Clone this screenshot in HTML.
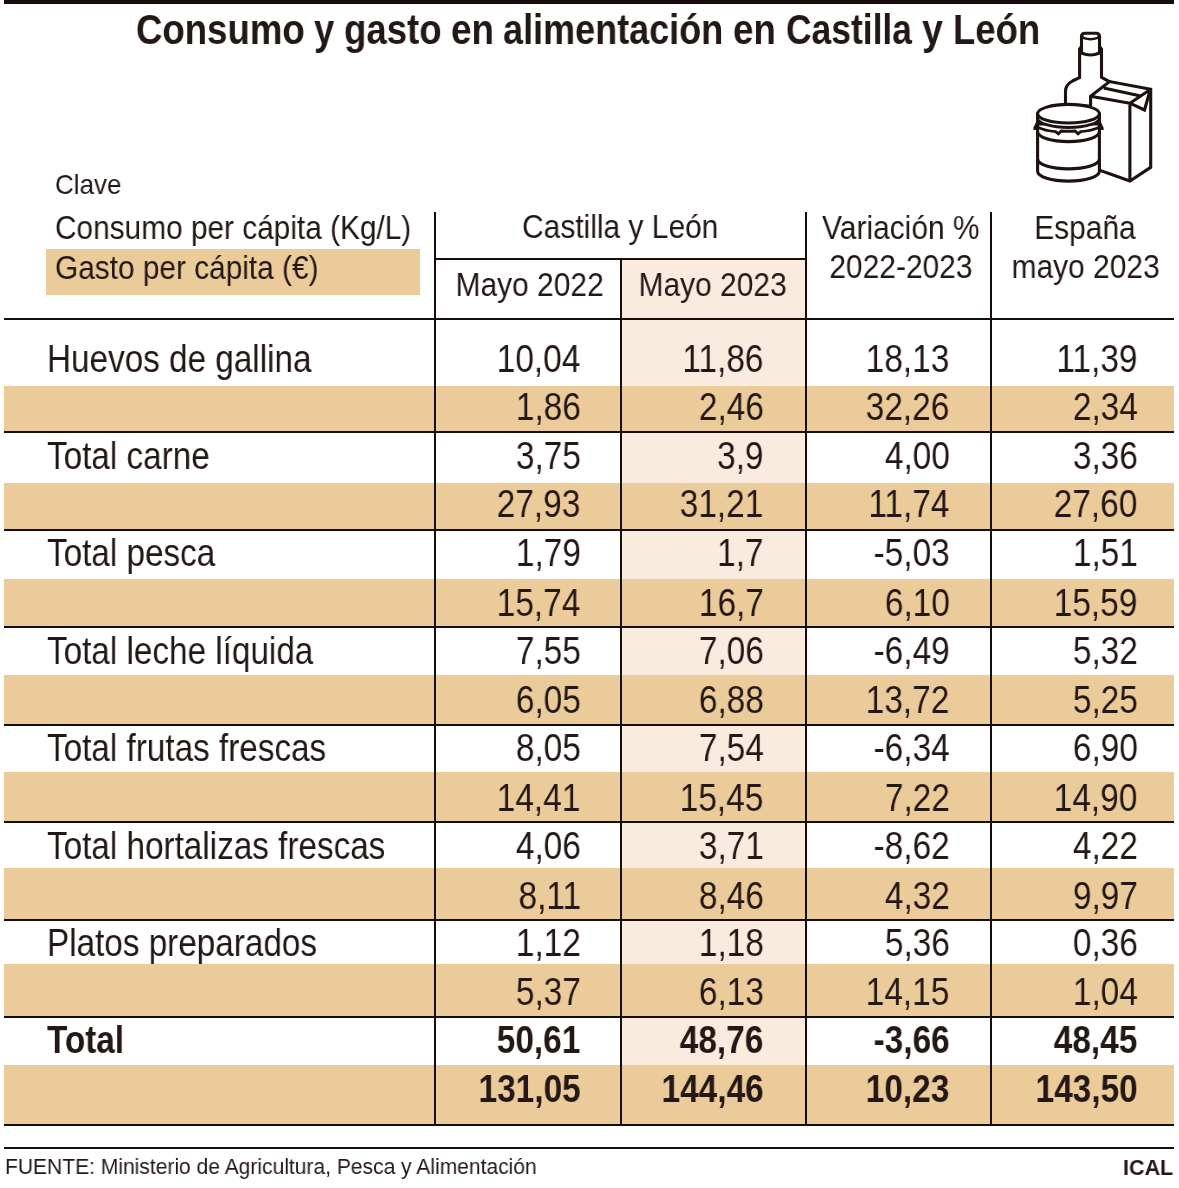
<!DOCTYPE html>
<html lang="es">
<head>
<meta charset="utf-8">
<title>Consumo y gasto en alimentación en Castilla y León</title>
<style>
html,body{margin:0;padding:0;background:#fff;}
body{width:1179px;height:1188px;position:relative;overflow:hidden;font-family:"Liberation Sans",sans-serif;color:#231815;}
.t{will-change:transform;position:absolute;white-space:nowrap;font-family:"Liberation Sans",sans-serif;color:#231815;margin:0;padding:0;}
.r{position:absolute;}
h1.title{margin:0;padding:0;position:absolute;left:0;top:0;width:1179px;height:60px;font-size:43px;font-weight:bold;}
h1.title span{display:block;}
svg.icon{position:absolute;left:0;top:0;width:1179px;height:200px;overflow:visible;}
</style>
</head>
<body>
<div class="r bar" style="left:4.00px;top:0.00px;width:1169.70px;height:3.70px;background:#170d0b"></div>
<h1 class="title"><span class="t tw" style="left:136.24px;top:4.90px;font-size:43px;line-height:48px;font-weight:bold;transform-origin:0 0;transform:scaleX(0.851);">Consumo</span> <span class="t tw" style="left:314.03px;top:4.90px;font-size:43px;line-height:48px;font-weight:bold;transform-origin:0 0;transform:scaleX(0.849);">y</span> <span class="t tw" style="left:344.44px;top:4.90px;font-size:43px;line-height:48px;font-weight:bold;transform-origin:0 0;transform:scaleX(0.851);">gasto</span> <span class="t tw" style="left:450.73px;top:4.90px;font-size:43px;line-height:48px;font-weight:bold;transform-origin:0 0;transform:scaleX(0.856);">en</span> <span class="t tw" style="left:503.12px;top:4.90px;font-size:43px;line-height:48px;font-weight:bold;transform-origin:0 0;transform:scaleX(0.838);">alimentación</span> <span class="t tw" style="left:732.73px;top:4.90px;font-size:43px;line-height:48px;font-weight:bold;transform-origin:0 0;transform:scaleX(0.852);">en</span> <span class="t tw" style="left:786.38px;top:4.90px;font-size:43px;line-height:48px;font-weight:bold;transform-origin:0 0;transform:scaleX(0.823);">Castilla</span> <span class="t tw" style="left:921.62px;top:4.90px;font-size:43px;line-height:48px;font-weight:bold;transform-origin:0 0;transform:scaleX(0.875);">y</span> <span class="t tw" style="left:953.24px;top:4.90px;font-size:43px;line-height:48px;font-weight:bold;transform-origin:0 0;transform:scaleX(0.848);">León</span></h1>
<div class="r lightcol" style="left:621.00px;top:259.00px;width:185.20px;height:866.30px;background:#F9ECDF"></div>
<div class="r legendbox" style="left:46.20px;top:249.20px;width:373.50px;height:45.50px;background:#ECCB9A"></div>
<div class="t legend" style="left:54.80px;top:168.60px;font-size:27.5px;line-height:31px;transform-origin:0 0;transform:scaleX(0.945);">Clave</div>
<div class="t legend" style="left:55.21px;top:208.60px;font-size:33px;line-height:37px;transform-origin:0 0;transform:scaleX(0.9035);">Consumo per cápita (Kg/L)</div>
<div class="t legend" style="left:55.21px;top:248.70px;font-size:33px;line-height:37px;transform-origin:0 0;transform:scaleX(0.9035);">Gasto per cápita (€)</div>
<div class="t hd" style="left:510.32px;top:208.40px;width:220.46px;font-size:33px;line-height:37px;transform-origin:50% 0;transform:scaleX(0.907);text-align:center;">Castilla y León</div>
<div class="t hd" style="left:446.38px;top:265.70px;width:167.28px;font-size:33px;line-height:37px;transform-origin:50% 0;transform:scaleX(0.907);text-align:center;">Mayo 2022</div>
<div class="t hd" style="left:628.77px;top:265.70px;width:167.28px;font-size:33px;line-height:37px;transform-origin:50% 0;transform:scaleX(0.907);text-align:center;">Mayo 2023</div>
<div class="t hd" style="left:812.36px;top:209.00px;width:177.64px;font-size:33px;line-height:37px;transform-origin:50% 0;transform:scaleX(0.907);text-align:center;">Variación %</div>
<div class="t hd" style="left:819.81px;top:248.30px;width:161.82px;font-size:33px;line-height:37px;transform-origin:50% 0;transform:scaleX(0.907);text-align:center;">2022-2023</div>
<div class="t hd" style="left:1027.03px;top:208.50px;width:115.93px;font-size:33px;line-height:37px;transform-origin:50% 0;transform:scaleX(0.907);text-align:center;">España</div>
<div class="t hd" style="left:1002.09px;top:248.40px;width:167.28px;font-size:33px;line-height:37px;transform-origin:50% 0;transform:scaleX(0.907);text-align:center;">mayo 2023</div>
<div class="r tan" style="left:4.00px;top:385.90px;width:1169.70px;height:46.00px;background:#ECCB9A"></div>
<div class="r tan" style="left:4.00px;top:483.00px;width:1169.70px;height:46.90px;background:#ECCB9A"></div>
<div class="r tan" style="left:4.00px;top:579.00px;width:1169.70px;height:47.90px;background:#ECCB9A"></div>
<div class="r tan" style="left:4.00px;top:674.90px;width:1169.70px;height:49.90px;background:#ECCB9A"></div>
<div class="r tan" style="left:4.00px;top:772.00px;width:1169.70px;height:50.00px;background:#ECCB9A"></div>
<div class="r tan" style="left:4.00px;top:868.00px;width:1169.70px;height:52.00px;background:#ECCB9A"></div>
<div class="r tan" style="left:4.00px;top:963.90px;width:1169.70px;height:53.10px;background:#ECCB9A"></div>
<div class="r tan" style="left:4.00px;top:1064.90px;width:1169.70px;height:60.50px;background:#ECCB9A"></div>
<div class="t lbl" style="left:47.40px;top:336.60px;font-size:38.5px;line-height:43px;transform-origin:0 0;transform:scaleX(0.864);">Huevos de gallina</div>
<div class="t num" style="left:482.31px;top:336.60px;width:98.35px;font-size:38.5px;line-height:43px;transform-origin:100% 0;transform:scaleX(0.868);text-align:right;">10,04</div>
<div class="t num" style="left:668.12px;top:336.60px;width:95.49px;font-size:38.5px;line-height:43px;transform-origin:100% 0;transform:scaleX(0.868);text-align:right;">11,86</div>
<div class="t num" style="left:851.18px;top:336.60px;width:98.35px;font-size:38.5px;line-height:43px;transform-origin:100% 0;transform:scaleX(0.868);text-align:right;">18,13</div>
<div class="t num" style="left:1042.07px;top:336.60px;width:95.49px;font-size:38.5px;line-height:43px;transform-origin:100% 0;transform:scaleX(0.868);text-align:right;">11,39</div>
<div class="t num" style="left:503.72px;top:384.55px;width:76.94px;font-size:38.5px;line-height:43px;transform-origin:100% 0;transform:scaleX(0.868);text-align:right;">1,86</div>
<div class="t num" style="left:686.67px;top:384.55px;width:76.94px;font-size:38.5px;line-height:43px;transform-origin:100% 0;transform:scaleX(0.868);text-align:right;">2,46</div>
<div class="t num" style="left:851.18px;top:384.55px;width:98.35px;font-size:38.5px;line-height:43px;transform-origin:100% 0;transform:scaleX(0.868);text-align:right;">32,26</div>
<div class="t num" style="left:1060.62px;top:384.55px;width:76.94px;font-size:38.5px;line-height:43px;transform-origin:100% 0;transform:scaleX(0.868);text-align:right;">2,34</div>
<div class="t lbl" style="left:47.40px;top:433.60px;font-size:38.5px;line-height:43px;transform-origin:0 0;transform:scaleX(0.864);">Total carne</div>
<div class="t num" style="left:503.72px;top:433.60px;width:76.94px;font-size:38.5px;line-height:43px;transform-origin:100% 0;transform:scaleX(0.868);text-align:right;">3,75</div>
<div class="t num" style="left:708.09px;top:433.60px;width:55.52px;font-size:38.5px;line-height:43px;transform-origin:100% 0;transform:scaleX(0.868);text-align:right;">3,9</div>
<div class="t num" style="left:872.59px;top:433.60px;width:76.94px;font-size:38.5px;line-height:43px;transform-origin:100% 0;transform:scaleX(0.868);text-align:right;">4,00</div>
<div class="t num" style="left:1060.62px;top:433.60px;width:76.94px;font-size:38.5px;line-height:43px;transform-origin:100% 0;transform:scaleX(0.868);text-align:right;">3,36</div>
<div class="t num" style="left:482.31px;top:482.30px;width:98.35px;font-size:38.5px;line-height:43px;transform-origin:100% 0;transform:scaleX(0.868);text-align:right;">27,93</div>
<div class="t num" style="left:665.26px;top:482.30px;width:98.35px;font-size:38.5px;line-height:43px;transform-origin:100% 0;transform:scaleX(0.868);text-align:right;">31,21</div>
<div class="t num" style="left:854.04px;top:482.30px;width:95.49px;font-size:38.5px;line-height:43px;transform-origin:100% 0;transform:scaleX(0.868);text-align:right;">11,74</div>
<div class="t num" style="left:1039.21px;top:482.30px;width:98.35px;font-size:38.5px;line-height:43px;transform-origin:100% 0;transform:scaleX(0.868);text-align:right;">27,60</div>
<div class="t lbl" style="left:47.40px;top:531.30px;font-size:38.5px;line-height:43px;transform-origin:0 0;transform:scaleX(0.864);">Total pesca</div>
<div class="t num" style="left:503.72px;top:531.30px;width:76.94px;font-size:38.5px;line-height:43px;transform-origin:100% 0;transform:scaleX(0.868);text-align:right;">1,79</div>
<div class="t num" style="left:708.09px;top:531.30px;width:55.52px;font-size:38.5px;line-height:43px;transform-origin:100% 0;transform:scaleX(0.868);text-align:right;">1,7</div>
<div class="t num" style="left:859.77px;top:531.30px;width:89.76px;font-size:38.5px;line-height:43px;transform-origin:100% 0;transform:scaleX(0.868);text-align:right;">-5,03</div>
<div class="t num" style="left:1060.62px;top:531.30px;width:76.94px;font-size:38.5px;line-height:43px;transform-origin:100% 0;transform:scaleX(0.868);text-align:right;">1,51</div>
<div class="t num" style="left:482.31px;top:580.50px;width:98.35px;font-size:38.5px;line-height:43px;transform-origin:100% 0;transform:scaleX(0.868);text-align:right;">15,74</div>
<div class="t num" style="left:686.67px;top:580.50px;width:76.94px;font-size:38.5px;line-height:43px;transform-origin:100% 0;transform:scaleX(0.868);text-align:right;">16,7</div>
<div class="t num" style="left:872.59px;top:580.50px;width:76.94px;font-size:38.5px;line-height:43px;transform-origin:100% 0;transform:scaleX(0.868);text-align:right;">6,10</div>
<div class="t num" style="left:1039.21px;top:580.50px;width:98.35px;font-size:38.5px;line-height:43px;transform-origin:100% 0;transform:scaleX(0.868);text-align:right;">15,59</div>
<div class="t lbl" style="left:47.40px;top:628.60px;font-size:38.5px;line-height:43px;transform-origin:0 0;transform:scaleX(0.864);">Total leche líquida</div>
<div class="t num" style="left:503.72px;top:628.60px;width:76.94px;font-size:38.5px;line-height:43px;transform-origin:100% 0;transform:scaleX(0.868);text-align:right;">7,55</div>
<div class="t num" style="left:686.67px;top:628.60px;width:76.94px;font-size:38.5px;line-height:43px;transform-origin:100% 0;transform:scaleX(0.868);text-align:right;">7,06</div>
<div class="t num" style="left:859.77px;top:628.60px;width:89.76px;font-size:38.5px;line-height:43px;transform-origin:100% 0;transform:scaleX(0.868);text-align:right;">-6,49</div>
<div class="t num" style="left:1060.62px;top:628.60px;width:76.94px;font-size:38.5px;line-height:43px;transform-origin:100% 0;transform:scaleX(0.868);text-align:right;">5,32</div>
<div class="t num" style="left:503.72px;top:677.70px;width:76.94px;font-size:38.5px;line-height:43px;transform-origin:100% 0;transform:scaleX(0.868);text-align:right;">6,05</div>
<div class="t num" style="left:686.67px;top:677.70px;width:76.94px;font-size:38.5px;line-height:43px;transform-origin:100% 0;transform:scaleX(0.868);text-align:right;">6,88</div>
<div class="t num" style="left:851.18px;top:677.70px;width:98.35px;font-size:38.5px;line-height:43px;transform-origin:100% 0;transform:scaleX(0.868);text-align:right;">13,72</div>
<div class="t num" style="left:1060.62px;top:677.70px;width:76.94px;font-size:38.5px;line-height:43px;transform-origin:100% 0;transform:scaleX(0.868);text-align:right;">5,25</div>
<div class="t lbl" style="left:47.40px;top:725.90px;font-size:38.5px;line-height:43px;transform-origin:0 0;transform:scaleX(0.864);">Total frutas frescas</div>
<div class="t num" style="left:503.72px;top:725.90px;width:76.94px;font-size:38.5px;line-height:43px;transform-origin:100% 0;transform:scaleX(0.868);text-align:right;">8,05</div>
<div class="t num" style="left:686.67px;top:725.90px;width:76.94px;font-size:38.5px;line-height:43px;transform-origin:100% 0;transform:scaleX(0.868);text-align:right;">7,54</div>
<div class="t num" style="left:859.77px;top:725.90px;width:89.76px;font-size:38.5px;line-height:43px;transform-origin:100% 0;transform:scaleX(0.868);text-align:right;">-6,34</div>
<div class="t num" style="left:1060.62px;top:725.90px;width:76.94px;font-size:38.5px;line-height:43px;transform-origin:100% 0;transform:scaleX(0.868);text-align:right;">6,90</div>
<div class="t num" style="left:482.31px;top:775.50px;width:98.35px;font-size:38.5px;line-height:43px;transform-origin:100% 0;transform:scaleX(0.868);text-align:right;">14,41</div>
<div class="t num" style="left:665.26px;top:775.50px;width:98.35px;font-size:38.5px;line-height:43px;transform-origin:100% 0;transform:scaleX(0.868);text-align:right;">15,45</div>
<div class="t num" style="left:872.59px;top:775.50px;width:76.94px;font-size:38.5px;line-height:43px;transform-origin:100% 0;transform:scaleX(0.868);text-align:right;">7,22</div>
<div class="t num" style="left:1039.21px;top:775.50px;width:98.35px;font-size:38.5px;line-height:43px;transform-origin:100% 0;transform:scaleX(0.868);text-align:right;">14,90</div>
<div class="t lbl" style="left:47.40px;top:823.80px;font-size:38.5px;line-height:43px;transform-origin:0 0;transform:scaleX(0.864);">Total hortalizas frescas</div>
<div class="t num" style="left:503.72px;top:823.80px;width:76.94px;font-size:38.5px;line-height:43px;transform-origin:100% 0;transform:scaleX(0.868);text-align:right;">4,06</div>
<div class="t num" style="left:686.67px;top:823.80px;width:76.94px;font-size:38.5px;line-height:43px;transform-origin:100% 0;transform:scaleX(0.868);text-align:right;">3,71</div>
<div class="t num" style="left:859.77px;top:823.80px;width:89.76px;font-size:38.5px;line-height:43px;transform-origin:100% 0;transform:scaleX(0.868);text-align:right;">-8,62</div>
<div class="t num" style="left:1060.62px;top:823.80px;width:76.94px;font-size:38.5px;line-height:43px;transform-origin:100% 0;transform:scaleX(0.868);text-align:right;">4,22</div>
<div class="t num" style="left:506.58px;top:873.50px;width:74.08px;font-size:38.5px;line-height:43px;transform-origin:100% 0;transform:scaleX(0.868);text-align:right;">8,11</div>
<div class="t num" style="left:686.67px;top:873.50px;width:76.94px;font-size:38.5px;line-height:43px;transform-origin:100% 0;transform:scaleX(0.868);text-align:right;">8,46</div>
<div class="t num" style="left:872.59px;top:873.50px;width:76.94px;font-size:38.5px;line-height:43px;transform-origin:100% 0;transform:scaleX(0.868);text-align:right;">4,32</div>
<div class="t num" style="left:1060.62px;top:873.50px;width:76.94px;font-size:38.5px;line-height:43px;transform-origin:100% 0;transform:scaleX(0.868);text-align:right;">9,97</div>
<div class="t lbl" style="left:47.40px;top:921.10px;font-size:38.5px;line-height:43px;transform-origin:0 0;transform:scaleX(0.864);">Platos preparados</div>
<div class="t num" style="left:503.72px;top:921.10px;width:76.94px;font-size:38.5px;line-height:43px;transform-origin:100% 0;transform:scaleX(0.868);text-align:right;">1,12</div>
<div class="t num" style="left:686.67px;top:921.10px;width:76.94px;font-size:38.5px;line-height:43px;transform-origin:100% 0;transform:scaleX(0.868);text-align:right;">1,18</div>
<div class="t num" style="left:872.59px;top:921.10px;width:76.94px;font-size:38.5px;line-height:43px;transform-origin:100% 0;transform:scaleX(0.868);text-align:right;">5,36</div>
<div class="t num" style="left:1060.62px;top:921.10px;width:76.94px;font-size:38.5px;line-height:43px;transform-origin:100% 0;transform:scaleX(0.868);text-align:right;">0,36</div>
<div class="t num" style="left:503.72px;top:970.00px;width:76.94px;font-size:38.5px;line-height:43px;transform-origin:100% 0;transform:scaleX(0.868);text-align:right;">5,37</div>
<div class="t num" style="left:686.67px;top:970.00px;width:76.94px;font-size:38.5px;line-height:43px;transform-origin:100% 0;transform:scaleX(0.868);text-align:right;">6,13</div>
<div class="t num" style="left:851.18px;top:970.00px;width:98.35px;font-size:38.5px;line-height:43px;transform-origin:100% 0;transform:scaleX(0.868);text-align:right;">14,15</div>
<div class="t num" style="left:1060.62px;top:970.00px;width:76.94px;font-size:38.5px;line-height:43px;transform-origin:100% 0;transform:scaleX(0.868);text-align:right;">1,04</div>
<div class="t lbl" style="left:47.40px;top:1018.40px;font-size:38.5px;line-height:43px;font-weight:bold;transform-origin:0 0;transform:scaleX(0.864);">Total</div>
<div class="t num" style="left:482.31px;top:1018.40px;width:98.35px;font-size:38.5px;line-height:43px;font-weight:bold;transform-origin:100% 0;transform:scaleX(0.868);text-align:right;">50,61</div>
<div class="t num" style="left:665.26px;top:1018.40px;width:98.35px;font-size:38.5px;line-height:43px;font-weight:bold;transform-origin:100% 0;transform:scaleX(0.868);text-align:right;">48,76</div>
<div class="t num" style="left:859.77px;top:1018.40px;width:89.76px;font-size:38.5px;line-height:43px;font-weight:bold;transform-origin:100% 0;transform:scaleX(0.868);text-align:right;">-3,66</div>
<div class="t num" style="left:1039.21px;top:1018.40px;width:98.35px;font-size:38.5px;line-height:43px;font-weight:bold;transform-origin:100% 0;transform:scaleX(0.868);text-align:right;">48,45</div>
<div class="t num" style="left:460.90px;top:1067.30px;width:119.76px;font-size:38.5px;line-height:43px;font-weight:bold;transform-origin:100% 0;transform:scaleX(0.868);text-align:right;">131,05</div>
<div class="t num" style="left:643.85px;top:1067.30px;width:119.76px;font-size:38.5px;line-height:43px;font-weight:bold;transform-origin:100% 0;transform:scaleX(0.868);text-align:right;">144,46</div>
<div class="t num" style="left:851.18px;top:1067.30px;width:98.35px;font-size:38.5px;line-height:43px;font-weight:bold;transform-origin:100% 0;transform:scaleX(0.868);text-align:right;">10,23</div>
<div class="t num" style="left:1017.80px;top:1067.30px;width:119.76px;font-size:38.5px;line-height:43px;font-weight:bold;transform-origin:100% 0;transform:scaleX(0.868);text-align:right;">143,50</div>
<div class="r hl" style="left:4.00px;top:317.90px;width:1169.70px;height:2.00px;background:#170d0b"></div>
<div class="r hl" style="left:434.00px;top:257.90px;width:373.00px;height:2.00px;background:#170d0b"></div>
<div class="r hl" style="left:4.00px;top:430.90px;width:1169.70px;height:2.00px;background:#170d0b"></div>
<div class="r hl" style="left:4.00px;top:528.90px;width:1169.70px;height:2.00px;background:#170d0b"></div>
<div class="r hl" style="left:4.00px;top:625.90px;width:1169.70px;height:2.00px;background:#170d0b"></div>
<div class="r hl" style="left:4.00px;top:723.80px;width:1169.70px;height:2.00px;background:#170d0b"></div>
<div class="r hl" style="left:4.00px;top:821.00px;width:1169.70px;height:2.00px;background:#170d0b"></div>
<div class="r hl" style="left:4.00px;top:919.00px;width:1169.70px;height:2.00px;background:#170d0b"></div>
<div class="r hl" style="left:4.00px;top:1016.00px;width:1169.70px;height:2.00px;background:#170d0b"></div>
<div class="r hl" style="left:4.00px;top:1124.40px;width:1169.70px;height:2.00px;background:#170d0b"></div>
<div class="r hl" style="left:4.00px;top:1146.70px;width:1169.70px;height:2.00px;background:#170d0b"></div>
<div class="r vl" style="left:434.00px;top:212.20px;width:2.00px;height:914.20px;background:#170d0b"></div>
<div class="r vl" style="left:620.00px;top:259.00px;width:2.00px;height:867.40px;background:#170d0b"></div>
<div class="r vl" style="left:805.00px;top:212.20px;width:2.00px;height:914.20px;background:#170d0b"></div>
<div class="r vl" style="left:990.00px;top:212.20px;width:2.00px;height:914.20px;background:#170d0b"></div>
<div class="t foot" style="left:5.16px;top:1154.40px;font-size:22.4px;line-height:25px;transform-origin:0 0;transform:scaleX(0.939);">FUENTE: Ministerio de Agricultura, Pesca y Alimentación</div>
<div class="t num" style="left:1119.40px;top:1154.90px;width:54.26px;font-size:22.4px;line-height:25px;font-weight:bold;transform-origin:100% 0;transform:scaleX(0.962);text-align:right;">ICAL</div>
<svg class="icon" viewBox="0 0 1179 200" fill="#fff" stroke="#1d1210" stroke-width="3.1" stroke-linejoin="miter" stroke-linecap="butt">
<!-- bottle -->
<path d="M1081.5,46.5 L1079.6,49 V77.6 L1072.5,81 C1068,83.5 1065.5,86 1065.5,91 V106 H1112 L1109.7,81.8 L1101.5,77.4 V49 L1099.5,46.5 Z"/>
<path d="M1081.5,53 V36.8 Q1081.5,33.3 1085,33.3 H1096 Q1099.5,33.3 1099.5,36.8 V53 Q1090.5,57 1081.5,53 Z"/>
<path d="M1081.6,35.6 A8.9,3.6 0 0 0 1099.4,35.6" fill="none" stroke-width="2.6"/>
<!-- carton -->
<path d="M1090.6,175 V96.2 L1109.6,81.6 L1150.7,89.2 V167.4 L1129.9,181 L1095,168.5 Z"/>
<path d="M1129.9,181 V103.2 L1090.6,96.2 M1129.9,103.2 L1150.7,89.2 M1103.7,88 L1140.7,95.9 M1129.9,103.2 L1144.5,110 L1150.2,90" fill="none"/>
<!-- jar body -->
<path d="M1037.6,124 V171.3 A30.9,9.8 0 0 0 1099.4,171.3 V124 Z"/>
<path d="M1037.6,159.1 A30.9,9.8 0 0 0 1099.4,159.1 M1037.6,131.8 A30.9,9.8 0 0 0 1099.4,131.8" fill="none"/>
<!-- notched rim arc -->
<path d="M1037.6,127.2 Q1045,130.6 1055.6,131.6 L1058.4,133.8 L1061.2,131.0 Q1068.5,131.6 1075.2,131.0 L1078,133.8 L1080.8,131.6 Q1092,130.6 1099.4,127.2" fill="none" stroke-width="2.9"/>
<!-- flanges -->
<path d="M1036.1,122 L1033.4,127.8 V129.9 H1038.6 L1039.1,122 Z" fill="#1d1210" stroke="none"/>
<path d="M1100.9,122 L1103.6,127.8 V129.9 H1098.4 L1097.9,122 Z" fill="#1d1210" stroke="none"/>
<!-- lid -->
<path d="M1037.6,113.9 V122 M1099.4,113.9 V122" fill="none"/>
<path d="M1037.6,113.7 V117.9 A30.9,9.6 0 0 0 1099.4,117.9 V113.7 Z" stroke-width="2.8"/>
<ellipse cx="1068.5" cy="113.7" rx="30.9" ry="9.3"/>
</svg>

</body>
</html>
